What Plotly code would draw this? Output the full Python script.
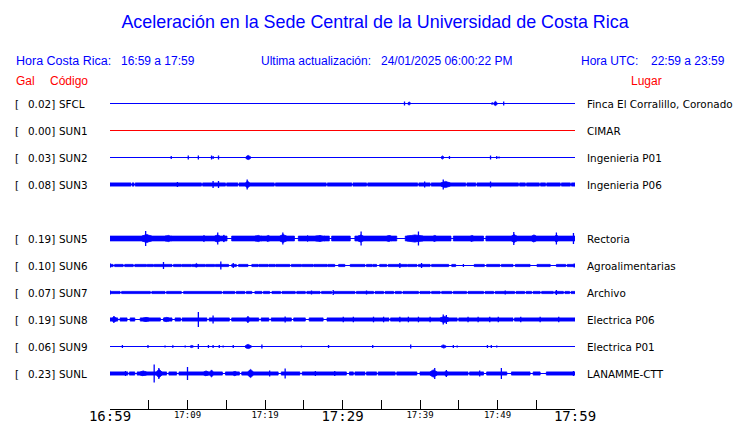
import plotly.graph_objects as go

# ---------------- data ----------------
title_text = "Aceleración en la Sede Central de la Universidad de Costa Rica"
hora_cr = "16:59 a 17:59"
ultima = "24/01/2025 06:00:22 PM"
hora_utc = "22:59 a 23:59"

codes = ["SFCL", "SUN1", "SUN2", "SUN3", "SUN5", "SUN6", "SUN7", "SUN8", "SUN9", "SUNL"]
gal = [0.02, 0.00, 0.03, 0.08, 0.19, 0.10, 0.07, 0.19, 0.06, 0.23]
places = ["Finca El Corralillo, Coronado", "CIMAR", "Ingenieria P01", "Ingenieria P06",
          "Rectoria", "Agroalimentarias", "Archivo", "Electrica P06", "Electrica P01",
          "LANAMME-CTT"]
slots = [0, 1, 2, 3, 5, 6, 7, 8, 9, 10]          # SUN4 slot is empty
trace_colors = ["blue", "red", "blue", "blue", "blue", "blue", "blue", "blue", "blue", "blue"]

# time in minutes after 16:59
tick_minutes = [0, 5, 10, 15, 20, 25, 30, 35, 40, 45, 50, 55, 60]
minor_labels = ["", "", "17:09", "", "17:19", "", "", "", "17:39", "", "17:49", "", ""]
major_minutes = [0, 30, 60]
major_labels = ["16:59", "17:29", "17:59"]

# envelope read from the records: background half-amplitude, quiet gaps,
# bursts (start, end, peak half-amplitude) and spikes (minute, half-amplitude)
band_half = {"SUN3": 2, "SUN5": 2.8, "SUN6": 1.5, "SUN7": 1.5, "SUN8": 2, "SUNL": 2}

gaps = {
    "SUN3": [(2.7, 2.85), (3.1, 3.25), (11.8, 11.95), (14.9, 15.05), (16.5, 16.65), (21.2, 21.35),
             (27.9, 28.05), (31.2, 31.35), (33.1, 33.25), (39.7, 39.85), (41.3, 41.45), (45.9, 46.05),
             (47.2, 47.35), (52.7, 52.85), (53.6, 53.75), (55.4, 55.55), (56.2, 56.35), (58.1, 58.25),
             (59.4, 59.55)],
    "SUN5": [(15.1, 15.7), (23.8, 24.3), (28.3, 28.6), (31.0, 31.6), (37.0, 38.1), (44.0, 44.3),
             (48.2, 48.5)],
    "SUN6": [(0.4, 0.6), (1.7, 1.9), (3.0, 3.2), (4.7, 4.8), (5.6, 5.7), (8.0, 8.2), (9.2, 9.3),
             (10.5, 10.6), (12.3, 12.4), (13.5, 13.6), (15.3, 15.7), (16.3, 16.6), (17.8, 18.3),
             (19.1, 19.2), (20.4, 20.5), (21.3, 21.4), (23.2, 23.4), (24.7, 24.8), (26.2, 26.3),
             (28.0, 28.1), (29.0, 29.5), (30.3, 31.0), (32.9, 33.1), (33.8, 33.9), (34.4, 34.8),
             (35.7, 35.9), (38.3, 38.4), (39.6, 39.8), (41.3, 41.5), (43.7, 44.1), (44.6, 47.0),
             (48.3, 48.6), (50.3, 50.5), (52.0, 52.3), (54.2, 55.1), (56.8, 57.6), (58.8, 59.0)],
    "SUN7": [(1.3, 1.5), (5.2, 5.4), (7.1, 7.3), (9.2, 9.5), (14.4, 14.6), (16.1, 16.3), (17.4, 17.6),
             (18.3, 18.7), (19.6, 19.8), (20.6, 20.9), (22.0, 22.2), (23.9, 24.1), (25.2, 25.4),
             (27.1, 27.3), (28.6, 28.8), (31.6, 31.8), (34.0, 34.2), (35.3, 35.5), (36.6, 36.8),
             (37.6, 37.8), (39.8, 40.0), (41.3, 41.5), (42.6, 42.8), (44.1, 44.3), (46.0, 46.2),
             (48.2, 48.4), (49.5, 49.7), (52.2, 52.4), (53.5, 53.7), (54.4, 54.6), (55.5, 55.7),
             (57.2, 57.4), (58.5, 58.7), (59.3, 59.5)],
    "SUN8": [(1.0, 1.3), (2.2, 2.6), (3.2, 3.9), (6.5, 6.9), (8.0, 8.4), (9.1, 9.3), (12.5, 12.8),
             (15.4, 15.7), (19.2, 19.5), (20.5, 20.8), (23.4, 23.7), (25.2, 25.7), (27.5, 28.0),
             (36.0, 36.2), (44.8, 45.0), (52.0, 52.2)],
    "SUNL": [(2.3, 2.5), (3.2, 3.5), (7.3, 7.6), (8.6, 8.9), (14.5, 14.9), (16.7, 17.0), (21.7, 22.1),
             (24.5, 24.8), (30.5, 30.9), (31.4, 31.6), (32.9, 33.1), (34.4, 34.6), (36.8, 37.0),
             (39.6, 40.0), (46.2, 46.4), (48.2, 48.6), (51.2, 51.8), (54.2, 54.6), (55.5, 56.3)],
}

bursts = {
    "SFCL": [(38.4, 38.8, 2), (49.2, 49.4, 1.5), (49.5, 50.0, 2.5)],
    "SUN2": [(17.5, 18.2, 2.5), (42.7, 43.1, 2)],
    "SUN3": [(17.5, 18.0, 4), (42.7, 43.9, 3.5)],
    "SUN5": [(4.1, 5.4, 4.5), (7.1, 8.0, 3.5), (12.0, 12.3, 3.5), (13.5, 14.2, 4), (14.6, 14.8, 4),
             (18.7, 19.6, 3.5), (20.2, 20.6, 3.5), (21.9, 22.8, 4.5), (25.4, 25.6, 3.5), (26.5, 27.7, 3.5),
             (32.0, 32.7, 4), (35.7, 36.3, 3.5), (38.3, 40.4, 4), (41.7, 42.1, 3.5), (46.5, 46.9, 3.5),
             (51.8, 52.5, 4.5), (54.4, 55.0, 4), (57.4, 57.8, 4)],
    "SUN6": [(11.0, 11.3, 2.5)],
    "SUN8": [(0.3, 0.8, 3), (4.3, 5.0, 2.5), (7.0, 7.6, 2.5), (17.6, 18.0, 3), (42.6, 43.7, 3.5)],
    "SUN9": [(8.0, 8.2, 1.5), (10.3, 10.8, 1.5), (17.4, 18.3, 2.5), (42.7, 43.4, 2)],
    "SUNL": [(3.9, 4.7, 3), (6.0, 6.7, 4.5), (12.1, 12.7, 3), (12.9, 13.3, 4), (15.9, 16.3, 3),
             (17.8, 18.5, 4.5), (41.3, 42.2, 4), (43.2, 43.6, 3)],
}

spikes = {
    "SFCL": [(38.0, 2), (50.8, 2)],
    "SUN2": [(7.9, 1.5), (10.1, 2), (11.4, 2), (13.1, 2), (13.3, 1.5), (14.0, 2), (43.8, 1.5),
             (49.1, 2), (49.9, 1.5), (50.2, 1)],
    "SUN3": [(8.7, 2.5), (13.3, 3.5), (14.0, 3.5), (17.7, 5), (40.6, 3), (43.0, 5), (49.1, 3)],
    "SUN5": [(4.6, 7.5), (13.9, 6), (22.3, 6), (32.4, 7), (39.8, 7), (52.1, 6.5), (57.6, 6), (59.8, 5.5)],
    "SUN6": [(0.05, 2), (6.9, 3.5), (14.3, 4), (15.9, 2.5), (37.4, 2.5), (40.2, 2.5), (45.6, 1.5),
             (59.9, 2)],
    "SUN7": [(0.02, 2), (26.0, 2), (28.8, 2.5), (33.1, 2), (51.0, 2), (57.6, 2.5)],
    "SUN8": [(0.5, 3.5), (11.4, 7.5), (13.3, 4), (17.8, 3.5), (22.6, 3), (30.1, 2.8), (31.4, 2.8),
             (34.0, 2.8), (35.3, 2.8), (37.4, 2.8), (38.5, 2.8), (39.8, 2.8), (41.3, 2.8), (43.0, 5),
             (43.4, 4.5), (46.2, 2.8), (47.5, 2.8), (49.0, 2.8), (50.1, 2.8), (53.0, 2.8), (55.5, 2.8),
             (57.9, 2.8)],
    "SUN9": [(1.6, 1.5), (4.9, 1.5), (7.1, 1), (9.7, 1), (11.4, 2.5), (12.7, 1.5), (13.3, 1.5),
             (14.1, 1.5), (14.6, 1), (15.9, 1.5), (19.6, 2), (24.7, 1), (28.2, 1.5), (33.9, 1.5),
             (38.8, 2), (44.3, 1.5), (44.8, 1), (48.7, 1.5), (49.2, 1.5), (49.9, 1)],
    "SUNL": [(2.0, 2.5), (5.7, 9), (6.3, 5.5), (10.0, 6.5), (20.6, 3), (22.6, 5), (26.5, 2.5),
             (29.0, 2.5), (41.9, 5.5), (43.4, 3.5), (47.7, 3), (50.5, 5.5), (59.8, 2.5)],
}

# ---------------- layout constants ----------------
W, H = 740, 423
ML, MR, MT, MB = 110, 165, 90, 14
PW, PH = W - ML - MR, H - MT - MB
ROW = 27              # pixels between records
FIRST = 103.5         # pixel y of first record (half pixel -> crisp 1px lines)
Y_TOP = FIRST - MT
Y_BOT = -(H - MB - FIRST)
T0, T1 = 0, 60
PAD = 2               # annotation inner padding

def row_y(slot):
    return -slot * ROW

def px_to_paper(px, py):
    return (px - ML) / PW, (H - MB - py) / PH

fig = go.Figure()

for code, slot, col in zip(codes, slots, trace_colors):
    y0 = row_y(slot)
    base_h = band_half.get(code, 0)
    fig.add_trace(go.Scatter(x=[T0, T1], y=[y0, y0], mode="lines",
                             line=dict(color=col, width=1.2), hoverinfo="skip", showlegend=False))
    xs, ys = [], []
    if base_h:
        hh = max(base_h - 0.4, 0.3)
        start = T0
        segs = []
        for a, b in sorted(gaps.get(code, [])):
            segs.append((start, a))
            start = b
        segs.append((start, T1))
        for a, b in segs:
            xs += [a, b, b, a, a, None]
            ys += [y0 + hh, y0 + hh, y0 - hh, y0 - hh, y0 + hh, None]
    # bursts: jagged swelling from the background level to the peak
    for a, b, pk in bursts.get(code, []):
        lo = max(base_h - 0.4, 0.3)
        pk = pk - 0.4
        d = (b - a)
        fx = [0, 0.15, 0.3, 0.5, 0.7, 0.85, 1]
        fy = [lo, 0.7 * pk, 0.85 * pk, pk, 0.8 * pk, 0.65 * pk, lo]
        top_x = [a + f * d for f in fx]
        xs += top_x + top_x[::-1] + [a, None]
        ys += [y0 + v for v in fy] + [y0 - v for v in fy[::-1]] + [y0 + lo, None]
    if xs:
        fig.add_trace(go.Scatter(x=xs, y=ys, mode="lines", fill="toself", fillcolor=col,
                                 line=dict(color=col, width=0.8), hoverinfo="skip", showlegend=False))
    sp = spikes.get(code, [])
    if sp:
        xs, ys = [], []
        for m, h in sp:
            xs += [m, m, None]
            ys += [y0 - h, y0 + h, None]
        fig.add_trace(go.Scatter(x=xs, y=ys, mode="lines", line=dict(color=col, width=1.3),
                                 hoverinfo="skip", showlegend=False))

# x2 carries the large tick labels
fig.add_trace(go.Scatter(x=[T0, T1], y=[Y_BOT, Y_BOT], xaxis="x2", mode="lines",
                         line=dict(width=0), hoverinfo="skip", showlegend=False))

annotations = []

def add_text(px, py, text, color, size, family, anchor="left"):
    x, y = px_to_paper(px - PAD, py)
    annotations.append(dict(x=x, y=y, xref="paper", yref="paper", text=text, showarrow=False,
                            xanchor=anchor, yanchor="middle",
                            font=dict(color=color, size=size, family=family)))

SANS = "Liberation Sans, Arial, sans-serif"
DJ = "DejaVu Sans, sans-serif"
BLUE = "#0000ff"

add_text(15.5, 61, "Hora Costa Rica:", BLUE, 12.5, SANS)
add_text(120.5, 61, hora_cr, BLUE, 12, SANS)
add_text(260.5, 61, "Ultima actualización:", BLUE, 12, SANS)
add_text(380.5, 61, ultima, BLUE, 12, SANS)
add_text(580.5, 61, "Hora UTC:", BLUE, 12, SANS)
add_text(650.5, 61, hora_utc, BLUE, 12, SANS)
add_text(15.5, 81, "Gal", "red", 12, SANS)
add_text(50, 81, "Código", "red", 12, SANS)
add_text(630.5, 81, "Lugar", "red", 12, SANS)

for code, g, place, slot in zip(codes, gal, places, slots):
    py = FIRST + slot * ROW
    add_text(15, py, "[", "black", 10.4, DJ)
    add_text(27.5, py, f"{g:.2f}]", "black", 10.4, DJ)
    add_text(59, py, code, "black", 10.4, DJ)
    add_text(587.3, py, place, "black", 10.4, DJ)

fig.update_layout(
    width=W, height=H,
    margin=dict(l=ML, r=MR, t=MT, b=MB, autoexpand=False),
    paper_bgcolor="white", plot_bgcolor="white",
    title=dict(text=title_text, x=375 / W, xanchor="center", y=1 - 22 / H, yanchor="middle",
               xref="container", yref="container",
               font=dict(family=SANS, size=17.9, color=BLUE)),
    xaxis=dict(range=[T0, T1], tickvals=tick_minutes, ticktext=minor_labels,
               showline=True, linecolor="black", linewidth=1, ticks="inside", ticklen=9,
               tickwidth=1, tickcolor="black", showgrid=False, zeroline=False,
               tickfont=dict(family="DejaVu Sans Mono, monospace", size=9, color="black"),
               ticklabelstandoff=-3, automargin=False, fixedrange=True),
    xaxis2=dict(range=[T0, T1], overlaying="x", side="bottom", anchor="y",
                tickvals=major_minutes, ticktext=major_labels, ticks="", showline=False,
                showgrid=False, zeroline=False,
                tickfont=dict(family="DejaVu Sans Mono, monospace", size=14, color="black"),
                ticklabelstandoff=-3, automargin=False, fixedrange=True),
    yaxis=dict(range=[Y_BOT, Y_TOP], visible=False, fixedrange=True),
    annotations=annotations,
    showlegend=False,
)

fig.write_html("out.html", config={"displayModeBar": False},
               post_script="document.body.style.margin='0';document.body.style.padding='0';")
